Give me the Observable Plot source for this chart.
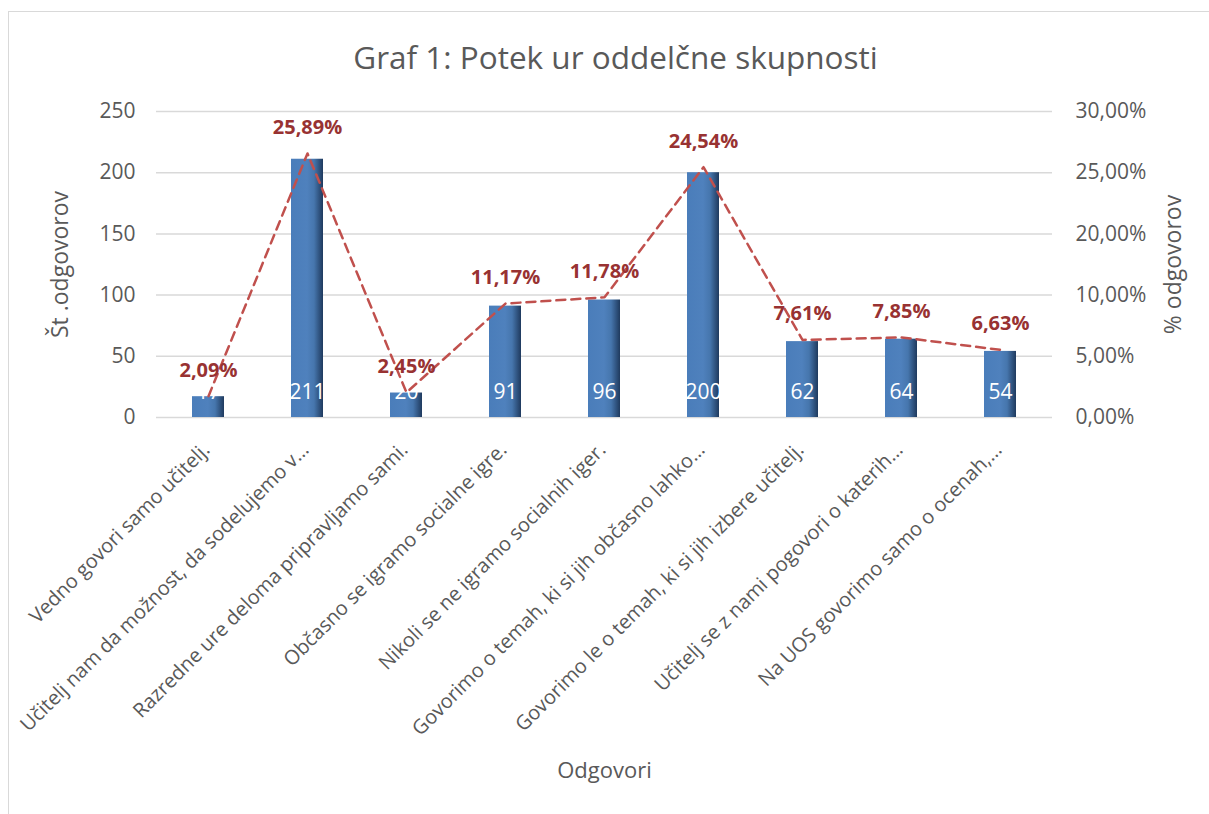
<!DOCTYPE html>
<html>
<head>
<meta charset="utf-8">
<script src="https://cdn.jsdelivr.net/npm/d3@7"></script>
<script src="https://cdn.jsdelivr.net/npm/@observablehq/plot@0.6"></script>
<style>
  html, body { margin: 0; padding: 0; background: #fff; width: 1209px; height: 814px; overflow: hidden; }
  #wrap { position: relative; width: 1209px; height: 814px; }
  #frame { position: absolute; left: 8px; top: 11px; width: 1220px; height: 830px; border: 1.5px solid #d9d9d9; box-sizing: border-box; }
  #chart { position: absolute; left: 0; top: 0; }
</style>
</head>
<body>
<div id="wrap">
  <div id="frame"></div>
  <div id="chart"></div>
</div>
<script>
const categories = [
  "Vedno govori samo učitelj.",
  "Učitelj nam da možnost, da sodelujemo v…",
  "Razredne ure deloma pripravljamo sami.",
  "Občasno se igramo socialne igre.",
  "Nikoli se ne igramo socialnih iger.",
  "Govorimo o temah, ki si jih občasno lahko…",
  "Govorimo le o temah, ki si jih izbere učitelj.",
  "Učitelj se z nami pogovori o katerih…",
  "Na UOS govorimo samo o ocenah,…"
];
const counts = [17, 211, 20, 91, 96, 200, 62, 64, 54];
const percents = [2.09, 25.89, 2.45, 11.17, 11.78, 24.54, 7.61, 7.85, 6.63];
const countTicks = [0, 50, 100, 150, 200, 250];
const percentTicks = ["0,00%", "5,00%", "10,00%", "15,00%", "20,00%", "25,00%", "30,00%"];
const titleText = "Graf 1: Potek ur oddelčne skupnosti";
const yLabelLeft = "Št .odgovorov";
const yLabelRight = "% odgovorov";
const xLabel = "Odgovori";

const COUNT_MAX = 250, PCT_MAX = 30;
const data = categories.map((c, i) => ({cat: c, count: counts[i], pct: percents[i]}));
const pctToY = p => p * COUNT_MAX / PCT_MAX;
const fmtPct = p => p.toFixed(2).replace(".", ",") + "%";

const grey = "#595959";

const plot = Plot.plot({
  width: 1209,
  height: 814,
  marginLeft: 156,
  marginRight: 157,
  marginTop: 111,
  marginBottom: 397,
  style: {fontFamily: "'Open Sans', sans-serif", background: "transparent", overflow: "visible"},
  x: {domain: categories, paddingInner: 0.68, paddingOuter: 0.34, axis: null},
  y: {domain: [0, COUNT_MAX], axis: null},
  marks: [
    Plot.gridY(countTicks, {stroke: "#d9d9d9", strokeOpacity: 1, strokeWidth: 1.5}),
    Plot.axisY(countTicks, {anchor: "left", tickSize: 0, tickPadding: 21, fontSize: 21, color: grey, label: null}),
    Plot.axisY(countTicks, {anchor: "right", tickSize: 0, tickPadding: 23, fontSize: 21, color: grey, label: null,
      tickFormat: (v, i) => percentTicks[Math.round(v / COUNT_MAX * PCT_MAX / 5)]}),
    Plot.barY(data, {x: "cat", y: "count", fill: "url(#barGrad)"}),
    Plot.text(data, {x: "cat", y: 0, text: d => String(d.count), dy: -25, fill: "white", fontSize: 21}),
    Plot.line(data, {x: "cat", y: d => pctToY(d.pct), stroke: "#c0504d", strokeWidth: 2.5, strokeDasharray: "9,6"}),
    Plot.text(data, {x: "cat", y: d => pctToY(d.pct), text: d => fmtPct(d.pct), dy: -26, fill: "#983232", fontWeight: "bold", fontSize: 20}),
    Plot.text(categories, {x: d => d, text: d => d, frameAnchor: "bottom", rotate: -45, textAnchor: "end", lineAnchor: "middle", dx: -2, dy: 29, fill: grey, fontSize: 20}),
    Plot.text([titleText], {text: d => d, frameAnchor: "top", textAnchor: "middle", lineAnchor: "middle", dx: 11, dy: -53, fill: grey, fontSize: 31.5}),
    Plot.text([yLabelLeft], {text: d => d, frameAnchor: "left", textAnchor: "middle", dx: -96, rotate: -90, fill: grey, fontSize: 23}),
    Plot.text([yLabelRight], {text: d => d, frameAnchor: "right", textAnchor: "middle", dx: 121, rotate: -90, fill: grey, fontSize: 23}),
    Plot.text([xLabel], {text: d => d, frameAnchor: "bottom", dy: 360, fill: grey, fontSize: 22})
  ]
});

// gradient for the bars
const svg = d3.select(plot);
const defs = svg.insert("defs", ":first-child");
const g = defs.append("linearGradient").attr("id", "barGrad").attr("x1", "0").attr("x2", "1").attr("y1", "0").attr("y2", "0");
[["0%", "#4a7dba"], ["50%", "#4f81bd"], ["72%", "#4676ad"], ["100%", "#1f3a5e"]].forEach(([o, c]) => {
  g.append("stop").attr("offset", o).attr("stop-color", c);
});

document.getElementById("chart").appendChild(plot);
</script>
</body>
</html>
